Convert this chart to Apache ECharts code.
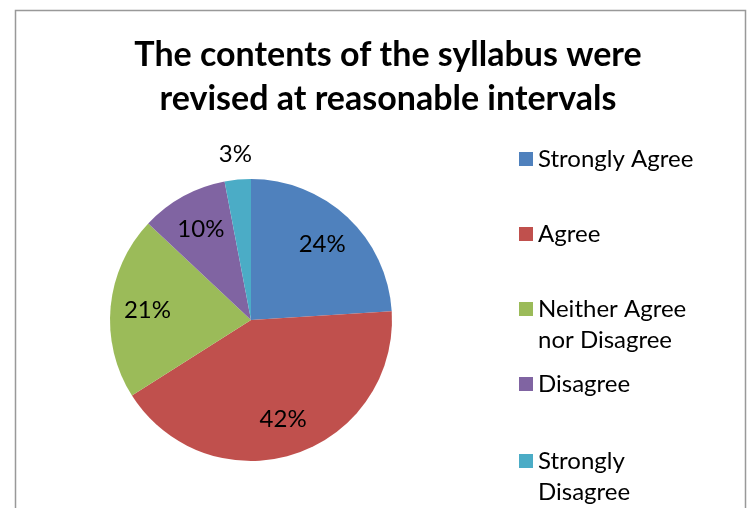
<!DOCTYPE html>
<html>
<head>
<meta charset="utf-8">
<script src="https://cdn.jsdelivr.net/npm/echarts@6/dist/echarts.min.js"></script>
<style>
    html, body { margin: 0; padding: 0; background: #ffffff; }
    #chart { width: 751px; height: 508px; }
</style>
</head>
<body>
<div id="chart"></div>
<script>
const categories = [
    "Strongly Agree",
    "Agree",
    "Neither Agree\nnor Disagree",
    "Disagree",
    "Strongly\nDisagree",
];
const percentages = [24, 42, 21, 10, 3];
const colors = ["#4F81BD", "#C0504D", "#9BBB59", "#8064A2", "#4BACC6"];
const titleText = "The contents of the syllabus were\nrevised at reasonable intervals";

const FONT = "Lato";
const CENTER = [251, 320];
const R = 141;
// the small slice gets its label outside the pie
const outsideIndex = 4;
const legendCenters = [159, 234, 309, 384, 461];

function makeData(showInside) {
    return categories.map((name, i) => {
        let inside = i !== outsideIndex;
        return {
            name,
            value: percentages[i],
            label: { show: showInside === inside },
        };
    });
}

const labelStyle = {
    color: "#000000",
    fontFamily: FONT,
    fontSize: 24,
    formatter: "{c}%",
    position: "inside",
};

const ghostOptions = {
    type: "pie",
    center: CENTER,
    silent: true,
    tooltip: { show: false },
    emphasis: { disabled: true },
    itemStyle: { color: "rgba(0,0,0,0)" },
    labelLine: { show: false },
    animation: false,
};

let legends = categories.map((name, i) => {
    let twoLines = name.indexOf("\n") >= 0;
    return {
        data: [name],
        left: 519,
        top: twoLines ? legendCenters[i] - 46.5 : legendCenters[i] - 15.5,
        padding: 0,
        icon: "rect",
        itemWidth: 14,
        itemHeight: 14,
        selectedMode: false,
        // blank first line keeps the square next to the first text line
        formatter: (n) => (twoLines ? "\n" + n : n),
        textStyle: {
            fontFamily: FONT,
            fontSize: 24,
            color: "#000000",
            lineHeight: 31,
        },
    };
});

let chartDom = document.getElementById("chart");
let myChart = echarts.init(chartDom, null, { renderer: "canvas" });

let option = {
    color: colors,
    animation: false,
    title: {
        text: titleText,
        left: 383,
        top: 28,
        textAlign: "center",
        textStyle: {
            fontFamily: FONT,
            fontSize: 34,
            fontWeight: "bold",
            color: "#000000",
            lineHeight: 44,
        },
    },
    legend: legends,
    graphic: [
        {
            type: "rect",
            shape: { x: 15.5, y: 10.5, width: 730, height: 520 },
            style: { fill: "none", stroke: "#999999", lineWidth: 1.5 },
            silent: true,
            z: -1,
        },
    ],
    series: [
        {
            type: "pie",
            center: CENTER,
            radius: [0, R],
            startAngle: 90,
            clockwise: true,
            label: { show: false },
            labelLine: { show: false },
            emphasis: { disabled: true },
            data: categories.map((name, i) => ({ name, value: percentages[i] })),
        },
        {
            ...ghostOptions,
            radius: [0, 202],
            label: labelStyle,
            data: makeData(true),
        },
        {
            ...ghostOptions,
            radius: [0, 326],
            label: labelStyle,
            data: makeData(false),
        },
    ],
};

option && myChart.setOption(option);
</script>
</body>
</html>
